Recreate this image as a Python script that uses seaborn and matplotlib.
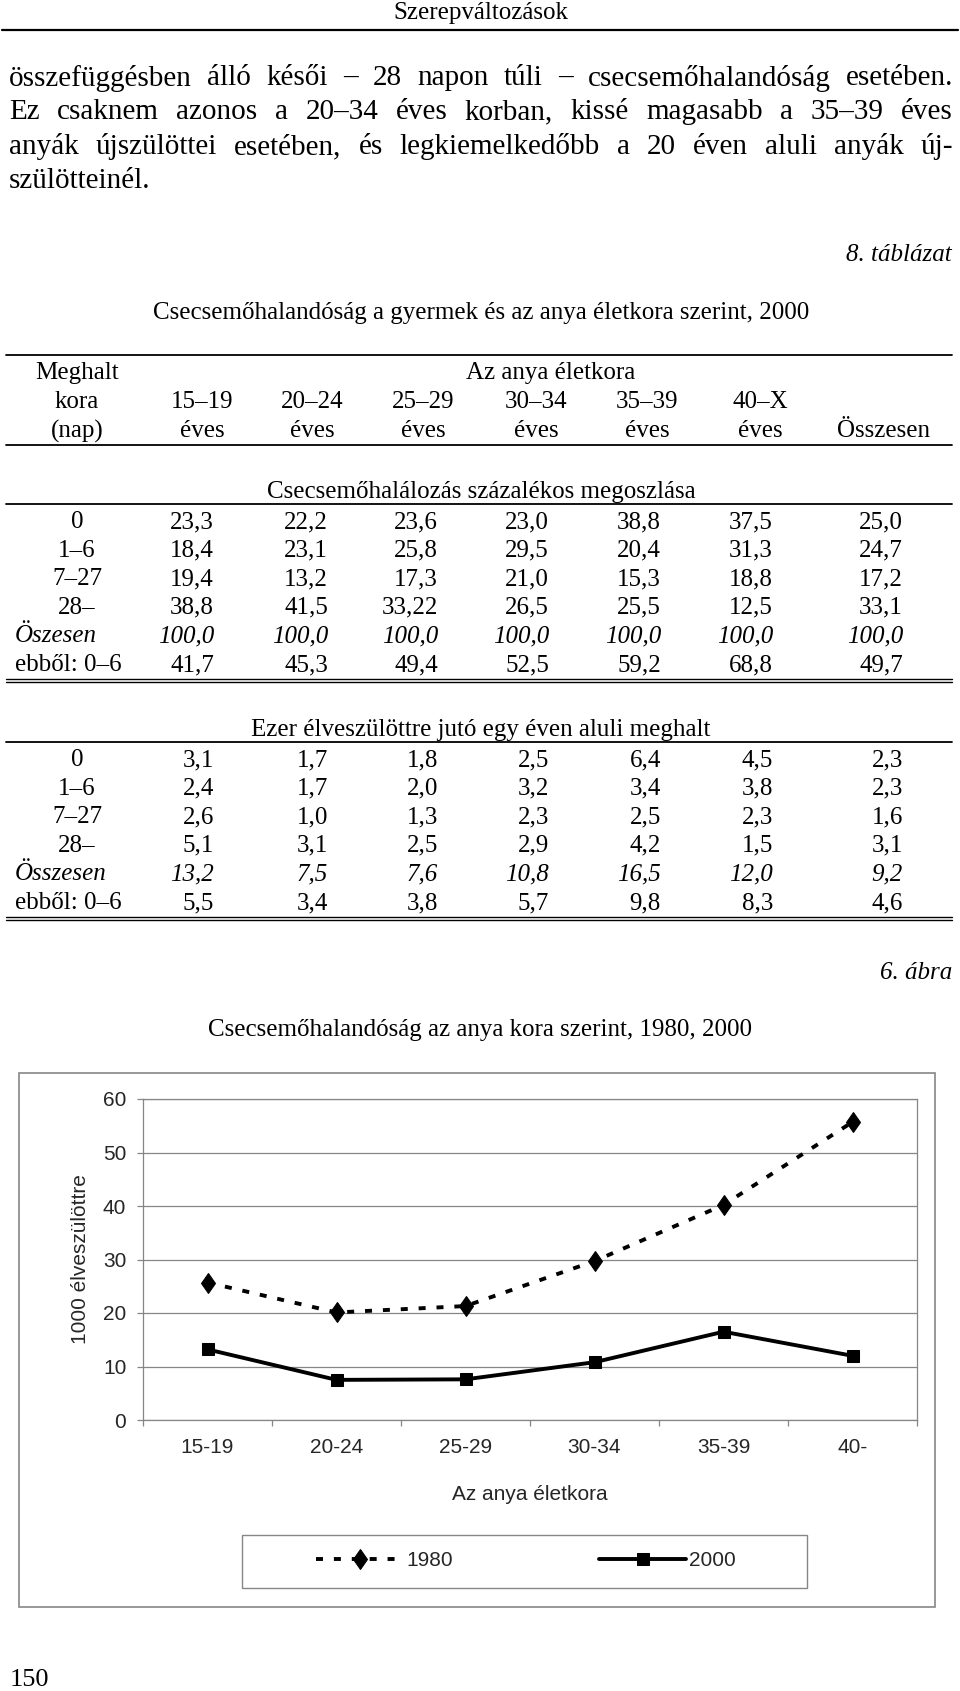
import numpy as np
import pandas as pd
import seaborn as sns
import matplotlib
matplotlib.use("Agg")
import matplotlib.pyplot as plt
from matplotlib.lines import Line2D
from matplotlib.patches import Rectangle
from matplotlib.markers import MarkerStyle
from matplotlib.transforms import Affine2D

# ---------------- data ----------------
page_header = "Szerepváltozások"
body_lines = [
    "összefüggésben álló késői – 28 napon túli – csecsemőhalandóság esetében.",
    "Ez csaknem azonos a 20–34 éves korban, kissé magasabb a 35–39 éves",
    "anyák újszülöttei esetében, és legkiemelkedőbb a 20 éven aluli anyák új-",
    "szülötteinél.",
]
table_label = "8. táblázat"
table_title = "Csecsemőhalandóság a gyermek és az anya életkora szerint, 2000"
col_groups = ["15–19", "20–24", "25–29", "30–34", "35–39", "40–X"]
col_total = "Összesen"
section1_title = "Csecsemőhalálozás százalékos megoszlása"
section2_title = "Ezer élveszülöttre jutó egy éven aluli meghalt"

sec1_labels = ["0", "1–6", "7–27", "28–", "Öszesen", "ebből: 0–6"]
sec1_r0 = ["23,3", "22,2", "23,6", "23,0", "38,8", "37,5", "25,0"]
sec1_r1 = ["18,4", "23,1", "25,8", "29,5", "20,4", "31,3", "24,7"]
sec1_r2 = ["19,4", "13,2", "17,3", "21,0", "15,3", "18,8", "17,2"]
sec1_r3 = ["38,8", "41,5", "33,22", "26,5", "25,5", "12,5", "33,1"]
sec1_r4 = ["100,0", "100,0", "100,0", "100,0", "100,0", "100,0", "100,0"]
sec1_r5 = ["41,7", "45,3", "49,4", "52,5", "59,2", "68,8", "49,7"]

sec2_labels = ["0", "1–6", "7–27", "28–", "Összesen", "ebből: 0–6"]
sec2_r0 = ["3,1", "1,7", "1,8", "2,5", "6,4", "4,5", "2,3"]
sec2_r1 = ["2,4", "1,7", "2,0", "3,2", "3,4", "3,8", "2,3"]
sec2_r2 = ["2,6", "1,0", "1,3", "2,3", "2,5", "2,3", "1,6"]
sec2_r3 = ["5,1", "3,1", "2,5", "2,9", "4,2", "1,5", "3,1"]
sec2_r4 = ["13,2", "7,5", "7,6", "10,8", "16,5", "12,0", "9,2"]
sec2_r5 = ["5,5", "3,4", "3,8", "5,7", "9,8", "8,3", "4,6"]

figure_label = "6. ábra"
chart_title = "Csecsemőhalandóság az anya kora szerint, 1980, 2000"
chart_cats = ["15-19", "20-24", "25-29", "30-34", "35-39", "40-"]
rate_1980 = [25.7, 20.1, 21.3, 29.7, 40.2, 55.7]
rate_2000 = [13.2, 7.5, 7.6, 10.8, 16.5, 12.0]
series_names = ["1980", "2000"]
y_label = "1000 élveszülöttre"
x_label = "Az anya életkora"
page_number = "150"

# ---------------- style ----------------
sns.set_theme(style="white")
plt.rcParams["font.family"] = ["Liberation Sans", "DejaVu Sans"]
SERIF = ["Liberation Serif", "DejaVu Serif"]
GRAY = "#868686"

W, H = 960, 1691
fig = plt.figure(figsize=(W / 100, H / 100), dpi=100)
fig.patch.set_facecolor("white")


def X(x):
    return x / W


def Y(y):
    return 1 - y / H


def txt(x, y, s, size=18, ha="center", style="normal", family=SERIF):
    return fig.text(X(x), Y(y), s, ha=ha, va="center", fontsize=size,
                    fontstyle=style, family=family, color="black")


def rule(y, x0=6, x1=952, lw=1.3):
    fig.add_artist(Line2D([X(x0), X(x1)], [Y(y), Y(y)],
                          transform=fig.transFigure, color="black", lw=lw))


renderer = fig.canvas.get_renderer()


def justify(line, y, x0, x1, size):
    words = line.split(" ")
    widths = []
    for w in words:
        t = fig.text(0, 0, w, fontsize=size, family=SERIF)
        widths.append(t.get_window_extent(renderer).width)
        t.remove()
    gap = (x1 - x0 - sum(widths)) / (len(words) - 1)
    x = x0
    for w, wd in zip(words, widths):
        txt(x, y, w, size=size, ha="left")
        x += wd + gap


# ---------------- page header + body ----------------
txt(481, 13, page_header, size=18)
rule(30, 2, 958, lw=1.6)
body_y = [78, 112, 147, 181]
for i, (ln, yy) in enumerate(zip(body_lines, body_y)):
    if i < len(body_lines) - 1:
        justify(ln, yy, 9, 953, 21)
    else:
        txt(9, yy, ln, size=21, ha="left")

# ---------------- table ----------------
txt(952, 255, table_label, size=18, ha="right", style="italic")
txt(481, 313, table_title, size=18)
rule(355)
label_cx = 77
col_cx = [202, 312, 423, 536, 647, 760]
txt(label_cx, 373, "Meghalt")
txt(551, 373, "Az anya életkora")
txt(label_cx, 402, "kora")
txt(label_cx, 431, "(nap)")
for cx, g in zip(col_cx, col_groups):
    txt(cx, 402, g)
    txt(cx, 431, "éves")
txt(884, 431, col_total)
rule(445)

val_right = [214, 328, 438, 549, 661, 773, 903]


def section(title, title_y, labels, rows, y0):
    txt(481, title_y, title)
    rule(title_y + 12)
    for i, (lab, row) in enumerate(zip(labels, rows)):
        yy = y0 + 28.6 * i
        italic = "italic" if i == 4 else "normal"
        if i >= 4:
            txt(15, yy, lab, ha="left", style=italic)
        else:
            txt(label_cx, yy, lab)
        for xr, v in zip(val_right, row):
            txt(xr, yy, v, ha="right", style=italic)


section(section1_title, 492, sec1_labels,
        [sec1_r0, sec1_r1, sec1_r2, sec1_r3, sec1_r4, sec1_r5], 522)
rule(679, lw=1.0)
rule(682, lw=1.0)
section(section2_title, 730, sec2_labels,
        [sec2_r0, sec2_r1, sec2_r2, sec2_r3, sec2_r4, sec2_r5], 760)
rule(917, lw=1.0)
rule(920, lw=1.0)

# ---------------- chart ----------------
txt(952, 973, figure_label, size=18, ha="right", style="italic")
txt(480, 1030, chart_title, size=18)

fig.add_artist(Rectangle((X(19), Y(1607)), (935 - 19) / W, (1607 - 1073) / H,
                         transform=fig.transFigure, fill=False,
                         edgecolor=GRAY, lw=1.2))

ax = fig.add_axes([X(143), Y(1420), (917 - 143) / W, (1420 - 1099) / H])
ax.set_facecolor("white")
pos = np.arange(len(chart_cats))
df = pd.DataFrame({"pos": pos, "r1980": rate_1980, "r2000": rate_2000})

tall_diamond = MarkerStyle("D", transform=Affine2D().scale(0.85, 1.2))
sns.lineplot(data=df, x="pos", y="r1980", ax=ax, color="black", lw=2.8,
             linestyle=(0, (1.8, 2.8)), marker=tall_diamond, markersize=8.5,
             markeredgecolor="black", markerfacecolor="black", legend=False)
sns.lineplot(data=df, x="pos", y="r2000", ax=ax, color="black", lw=2.8,
             linestyle="-", marker="s", markersize=8.8,
             markeredgecolor="black", markerfacecolor="black", legend=False)

ax.set_xlim(-0.5, len(chart_cats) - 0.5)
ax.set_ylim(0, 60)
ax.set_yticks(np.arange(0, 61, 10))
ax.set_xticks(np.arange(-0.5, len(chart_cats), 1.0))
ax.set_xticklabels([])
ax.set_xticks(pos, labels=chart_cats, minor=True)
ax.yaxis.grid(True, color=GRAY, lw=0.9)
ax.xaxis.grid(False)
ax.set_axisbelow(True)
for sp in ax.spines.values():
    sp.set_color(GRAY)
    sp.set_linewidth(0.9)
    sp.set_visible(True)
ax.tick_params(axis="y", which="major", length=4.5, width=0.9, color=GRAY,
               direction="out", pad=7.5, labelsize=15, left=True)
ax.tick_params(axis="x", which="major", length=4, width=0.9, color=GRAY,
               direction="out", bottom=True)
ax.tick_params(axis="x", which="minor", length=0, pad=13, labelsize=15,
               bottom=True)
ax.set_xlabel(x_label, fontsize=15)
ax.xaxis.set_label_coords(0.5, (1420 - 1495) / (1420 - 1099))
ax.xaxis.label.set_va("center")
ax.set_ylabel(y_label, fontsize=15)
ax.yaxis.set_label_coords((80 - 143) / (917 - 143), 0.5)
ax.yaxis.label.set_va("center")

# legend
fig.add_artist(Rectangle((X(242), Y(1588)), (807 - 242) / W, (1588 - 1535) / H,
                         transform=fig.transFigure, fill=False,
                         edgecolor=GRAY, lw=1.0))
fig.legend(handles=ax.lines[:2], labels=series_names, loc="center",
           bbox_to_anchor=(X(526), Y(1561)), ncol=2, frameon=False,
           handlelength=4.2, handletextpad=0.15, columnspacing=7.0,
           fontsize=15, numpoints=1)

txt(10, 1680, page_number, size=19, ha="left")

fig.savefig("out.png", dpi=100, facecolor="white")
